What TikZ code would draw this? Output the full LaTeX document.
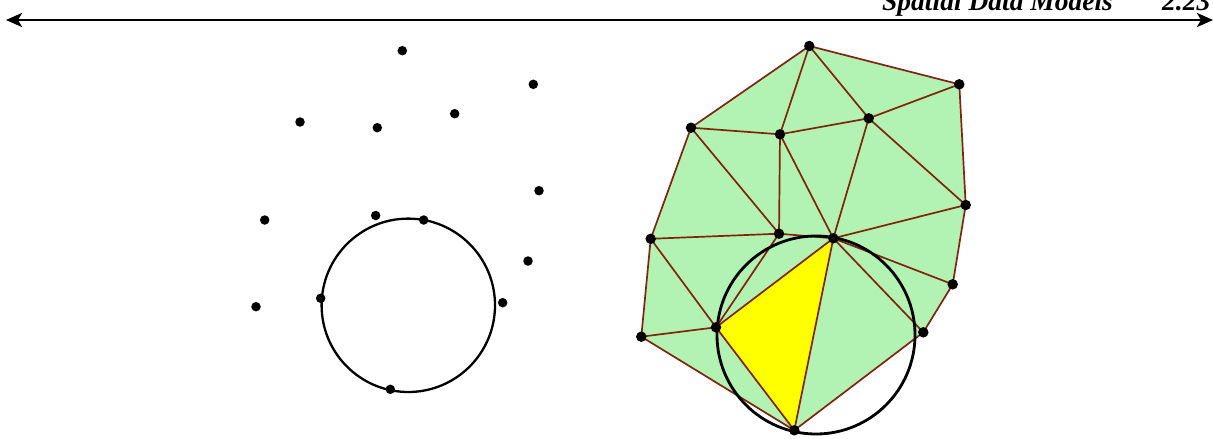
\documentclass[tikz,border=0pt]{standalone}
\usepackage{fontspec}
\setmainfont{Liberation Serif}
\usetikzlibrary{arrows.meta}
\definecolor{edgec}{RGB}{130,35,15}
\definecolor{tinfill}{RGB}{178,242,178}
\definecolor{yel}{RGB}{255,255,0}
\begin{document}
\begin{tikzpicture}[x=1pt,y=-1pt,
  >={Stealth[length=16pt,width=14pt,inset=4pt]},
  dot/.style={circle,fill=black,inner sep=0pt,minimum size=9.5pt},
  edge/.style={draw=edgec,line width=1.7pt},
  ring/.style={draw=black,line width=2.8pt},
  header/.style={font=\fontsize{27.5}{30}\selectfont\bfseries\itshape,anchor=base west,inner sep=0pt}]
\useasboundingbox (0,0) rectangle (1213,439);
% header
\node[header] (title) at (882,10) {Spatial Data Models};
\node[header] (page) at (1162,10) {2.23};
\coordinate (aL) at (6,20);
\coordinate (aR) at (1213,20);
\draw[line width=2.5pt,<->] (aL) -- (aR);
% left: points and circle
\coordinate (lc) at (408.3,305.3);
\draw[ring,line width=2.3pt] (lc) circle (86.7);
\foreach \n/\x/\y in {p1/402.3/50.7,p2/533.3/84.3,p3/300/122,p4/377.3/127.7,p5/454.7/113.7,
  p6/539/190.7,p7/264.7/220,p8/375.7/215.5,p9/423.7/220,p10/528/261,p11/256/306.7,
  p12/320.7/298.3,p13/502.7/302.7,p14/390.3/389.3}
  \node[dot] (\n) at (\x,\y) {};
% right: triangulation
\foreach \n/\x/\y in {A/809.3/46,B/959.3/84.3,C/691/127.7,D/780/134.3,E/868.7/118.3,
  F/965.7/205,G/650.7/238.8,H/779/233.7,I/833.3/238.3,J/952.7/284.3,K/716/327.3,
  L/641.3/336.7,M/923.3/332.3,N/794.3/430.3}
  \coordinate (\n) at (\x,\y);
\fill[tinfill] (A) -- (B) -- (F) -- (J) -- (M) -- (N) -- (L) -- (G) -- (C) -- cycle;
\fill[yel] (K) -- (I) -- (N) -- cycle;
\foreach \a/\b in {A/B,A/C,A/D,A/E,B/E,B/F,C/D,D/E,C/G,C/H,D/H,D/I,E/I,E/F,F/I,G/H,H/I,
  F/J,I/J,J/M,I/M,G/K,H/K,G/L,L/K,L/N,K/N,K/I,I/N,N/M}
  \draw[edge] (\a) -- (\b);
\coordinate (rc) at (816,335);
\draw[ring] (rc) circle (99);
\foreach \n in {A,B,C,D,E,F,G,H,I,J,K,L,M,N}
  \node[dot,minimum size=10.5pt] (d\n) at (\n) {};
\end{tikzpicture}
\end{document}
